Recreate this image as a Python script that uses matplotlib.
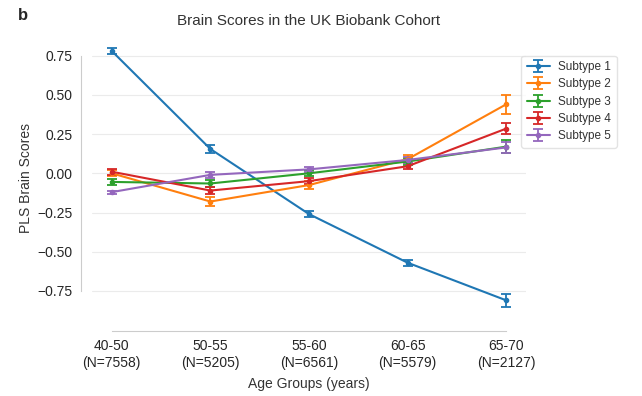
import matplotlib
matplotlib.use("Agg")
import matplotlib.pyplot as plt
import seaborn as sns
import numpy as np

age_groups = ["40-50\n(N=7558)", "50-55\n(N=5205)", "55-60\n(N=6561)",
              "60-65\n(N=5579)", "65-70\n(N=2127)"]
subtypes = ["Subtype 1", "Subtype 2", "Subtype 3", "Subtype 4", "Subtype 5"]

sub1 = [0.78, 0.155, -0.26, -0.57, -0.81]
sub1_err = [0.02, 0.025, 0.02, 0.02, 0.04]
sub2 = [0.00, -0.18, -0.075, 0.09, 0.44]
sub2_err = [0.02, 0.03, 0.025, 0.025, 0.06]
sub3 = [-0.055, -0.065, 0.00, 0.075, 0.17]
sub3_err = [0.02, 0.025, 0.02, 0.02, 0.04]
sub4 = [0.01, -0.11, -0.05, 0.045, 0.285]
sub4_err = [0.02, 0.025, 0.02, 0.02, 0.035]
sub5 = [-0.12, -0.01, 0.025, 0.085, 0.165]
sub5_err = [0.01, 0.02, 0.015, 0.02, 0.035]

sns.set_style("whitegrid", {"grid.color": "#ebebeb", "axes.edgecolor": "#cccccc"})
plt.rcParams['font.family'] = ['Liberation Sans', 'DejaVu Sans']

colors = ["#1f77b4", "#ff7f0e", "#2ca02c", "#d62728", "#9467bd"]
values = [sub1, sub2, sub3, sub4, sub5]
errors = [sub1_err, sub2_err, sub3_err, sub4_err, sub5_err]

fig = plt.figure(figsize=(6.42, 3.96), dpi=100)
ax = fig.add_axes([0.1433, 0.192, 0.676, 0.717])
x = np.arange(len(age_groups))
for name, v, e, c in zip(subtypes, values, errors, colors):
    ax.errorbar(x, v, yerr=e, label=name, color=c, marker="o", markersize=3,
                linewidth=1.5, elinewidth=1.3, capsize=3.5, capthick=1.3)

ax.set_xticks(x)
ax.set_xticklabels(age_groups, fontsize=8.5, color="#333333", linespacing=1.0)
ax.set_yticks([-0.75, -0.5, -0.25, 0, 0.25, 0.5, 0.75])
ax.set_yticklabels(["\u22120.75", "\u22120.50", "\u22120.25", "0.00", "0.25", "0.50", "0.75"],
                   fontsize=8.5, color="#333333")
ax.xaxis.grid(False)
ax.set_xlim(-0.2, 4.2)
ax.set_ylim(-0.935, 0.875)
ax.tick_params(axis="both", length=0, pad=6)
ax.set_xlabel("Age Groups (years)", fontsize=10, color="#333333", labelpad=5)
ax.set_ylabel("PLS Brain Scores", fontsize=10, color="#333333", labelpad=3)
ax.set_title("Brain Scores in the UK Biobank Cohort", fontsize=11, color="#333333", pad=8)
sns.despine(ax=ax, offset=8, trim=True)

leg = ax.legend(loc="upper left", bbox_to_anchor=(0.812, 0.859), bbox_transform=fig.transFigure,
                fontsize=8.5, frameon=True, borderaxespad=0, handlelength=2.0,
                handletextpad=0.7, labelspacing=0.45, borderpad=0.45)
leg.get_frame().set_edgecolor("#dddddd")
for t in leg.get_texts():
    t.set_color("#333333")

fig.text(0.028, 0.962, "b", fontsize=12, fontweight="bold", ha="left", va="center")

fig.savefig("out.png", dpi=100)
